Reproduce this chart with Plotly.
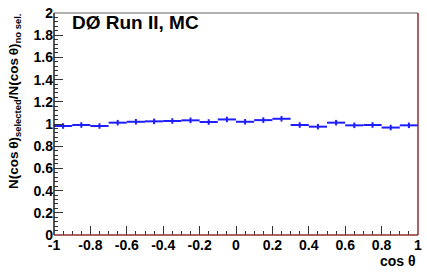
import plotly.graph_objects as go

bin_centers = [-0.95, -0.85, -0.75, -0.65, -0.55, -0.45, -0.35, -0.25, -0.15, -0.05,
               0.05, 0.15, 0.25, 0.35, 0.45, 0.55, 0.65, 0.75, 0.85, 0.95]
ratio = [0.982, 0.991, 0.982, 1.012, 1.020, 1.024, 1.027, 1.033, 1.018, 1.041,
         1.020, 1.035, 1.047, 0.991, 0.976, 1.012, 0.988, 0.991, 0.968, 0.988]
ratio_err = [0.025] * 20
bin_half_width = [0.05] * 20

x_ticks = [-1, -0.8, -0.6, -0.4, -0.2, 0, 0.2, 0.4, 0.6, 0.8, 1]
x_tick_labels = ["-1", "-0.8", "-0.6", "-0.4", "-0.2", "0", "0.2", "0.4", "0.6", "0.8", "1"]
y_ticks = [0, 0.2, 0.4, 0.6, 0.8, 1, 1.2, 1.4, 1.6, 1.8, 2]
y_tick_labels = ["0", "0.2", "0.4", "0.6", "0.8", "1", "1.2", "1.4", "1.6", "1.8", "2"]

blue = "#1e1eff"
font_family = "Liberation Sans, Arial, sans-serif"

fig = go.Figure()
fig.add_trace(go.Scatter(
    x=bin_centers, y=ratio, mode="markers",
    marker=dict(size=1, color=blue),
    error_x=dict(type="data", array=bin_half_width, color=blue, thickness=2, width=0),
    error_y=dict(type="data", array=ratio_err, color=blue, thickness=2, width=0),
    showlegend=False,
))

axis_common = dict(
    ticks="inside", ticklen=9, tickcolor="#333333", tickwidth=1,
    showgrid=False, zeroline=False, showline=False,
    tickfont=dict(family=font_family, size=14, color="black", weight="bold"),
)

fig.update_layout(
    width=427, height=273,
    margin=dict(l=54, r=5, t=9, b=38),
    plot_bgcolor="white", paper_bgcolor="white",
    xaxis=dict(range=[-1, 1], tickvals=x_ticks, ticktext=x_tick_labels,
               minor=dict(dtick=0.05, tick0=-1, ticks="inside", ticklen=4, tickcolor="#333333"),
               **axis_common),
    yaxis=dict(range=[0, 2], tickvals=y_ticks, ticktext=y_tick_labels,
               minor=dict(dtick=0.04, tick0=0, ticks="inside", ticklen=4, tickcolor="#333333"),
               **axis_common),
)

# frame lines (ROOT-style)
fig.add_shape(type="line", xref="paper", yref="paper", x0=0, x1=1, y0=1, y1=1,
              line=dict(color="#999999", width=1.5))
fig.add_shape(type="line", xref="paper", yref="paper", x0=0, x1=0, y0=0, y1=1,
              line=dict(color="#222222", width=1.5))
fig.add_shape(type="line", xref="paper", yref="paper", x0=0, x1=1, y0=0, y1=0,
              line=dict(color="#8b2f2f", width=1.5))
fig.add_shape(type="line", xref="paper", yref="paper", x0=1, x1=1, y0=0, y1=1,
              line=dict(color="#8b2f2f", width=1.5))

fig.add_annotation(
    text="DØ Run II, MC", xref="paper", yref="paper", x=0.043, y=0.955,
    xanchor="left", yanchor="middle", showarrow=False,
    font=dict(family=font_family, size=19, color="black", weight="bold"),
)
fig.add_annotation(
    text="cos θ", xref="paper", yref="paper", x=1.0, y=-0.115,
    xanchor="right", yanchor="middle", showarrow=False,
    font=dict(family=font_family, size=14, color="black", weight="bold"),
)
fig.add_annotation(
    text="N(cos\u2009θ)<sub>selected</sub>/N(cos\u2009θ)<sub>no sel.</sub>",
    xref="paper", yref="paper", x=-0.108, y=1.005,
    xanchor="center", yanchor="top", textangle=-90, showarrow=False,
    font=dict(family=font_family, size=13.5, color="black", weight="bold"),
)

fig.write_html("out.html", config={"displayModeBar": False},
               post_script="document.body.style.margin='0';")
